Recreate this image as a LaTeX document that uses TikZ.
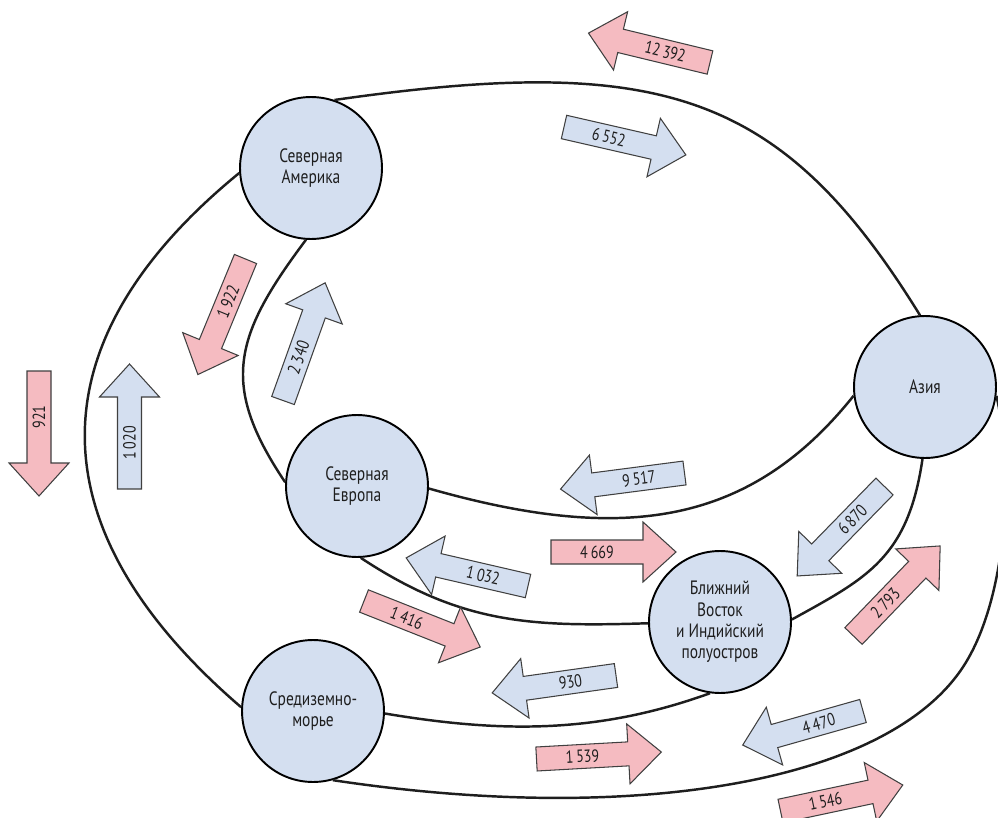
\documentclass[tikz,border=0pt]{standalone}
\usepackage{fontspec}
\setmainfont{PT Sans}[FakeStretch=0.8]
\definecolor{bluefill}{RGB}{212,223,240}
\definecolor{pinkfill}{RGB}{245,187,193}
\definecolor{inkc}{RGB}{30,30,30}
\tikzset{
  region/.style={circle, draw=black, line width=1.1pt, fill=bluefill, minimum size=2.84cm,
    inner sep=0pt, align=center, text=inkc, font=\fontsize{11}{12.2}\selectfont},
  loopline/.style={draw=inkc, line width=1.4pt},
  arrowline/.style={draw=inkc!85, line width=0.6pt, line join=miter},
  numlabel/.style={inner sep=0pt, text=inkc, font=\fontsize{10}{11}\selectfont},
}
\newcommand\flowarrow[6]{%
  \begin{scope}[shift={#2}, rotate=#3]
    \draw[arrowline, fill=#4] (0,-12) -- (92,-12) -- (92,-30) -- (125,0) -- (92,30) -- (92,12) -- (0,12) -- cycle;
    \node[numlabel, rotate=#5] (#1) at (46,0) {#6};
  \end{scope}}
\begin{document}
\begin{tikzpicture}[x=0.02cm, y=-0.02cm]
\useasboundingbox (0,0) rectangle (998,818);
% regions
\node[region] (na) at (311,168) {Северная\\Америка};
\node[region] (asia) at (925,387) {Азия};
\node[region] (ne) at (357,486) {Северная\\Европа};
\node[region] (med) at (313,711) {Средиземно-\\морье};
\node[region] (me) at (720,622) {Ближний\\Восток\\и Индийский\\полуостров};
\coordinate (hmid) at (963,667);
% loops
\draw[loopline] (na.71) .. controls (662,53) and (782,92) .. (asia.94);
\draw[loopline] (na.184) .. controls (30,344) and (36,531) .. (med.177);
\draw[loopline] (na.266) .. controls (233,337) and (220,385) .. (ne.177);
\draw[loopline] (ne.358) .. controls (620,543) and (748,528) .. (asia.187);
\draw[loopline] (ne.273) .. controls (461,624) and (530,627) .. (me.181);
\draw[loopline] (me.2) .. controls (867,578) and (908,558) .. (asia.268);
\draw[loopline] (med.358) .. controls (501,733) and (597,734) .. (me.262);
\draw[loopline] (med.286) .. controls (630,825) and (886,784) .. (hmid)
   .. controls (1007,600) and (1014,472) .. (asia.353);
% flows
\flowarrow{f12392}{(710,62.5)}{166.4}{pinkfill}{-13.6}{12\,392}
\flowarrow{f6552}{(564,127)}{-12.9}{bluefill}{-12.9}{6\,552}
\flowarrow{f1922}{(245.5,259)}{247.6}{pinkfill}{67.6}{1\,922}
\flowarrow{f2340}{(283,400.5)}{70.3}{bluefill}{70.3}{2\,340}
\flowarrow{f921}{(39,371)}{-90}{pinkfill}{90}{921}
\flowarrow{f1020}{(129.5,489)}{90}{bluefill}{90}{1\,020}
\flowarrow{f9517}{(684.5,473)}{187.4}{bluefill}{7.4}{9\,517}
\flowarrow{f4669}{(551,552)}{0}{pinkfill}{0}{4\,669}
\flowarrow{f1032}{(528,586)}{167}{bluefill}{-13}{1\,032}
\flowarrow{f1416}{(364,601)}{-21.6}{pinkfill}{-21.6}{1\,416}
\flowarrow{f6870}{(884.5,486.5)}{225.7}{bluefill}{45.7}{6\,870}
\flowarrow{f2793}{(853.5,636)}{46.1}{pinkfill}{46.1}{2\,793}
\flowarrow{f930}{(616,675.5)}{188}{bluefill}{8}{930}
\flowarrow{f4470}{(863,711)}{195.8}{bluefill}{15.8}{4\,470}
\flowarrow{f1539}{(536.5,759)}{3.2}{pinkfill}{3.2}{1\,539}
\flowarrow{f1546}{(780.5,811)}{12}{pinkfill}{12}{1\,546}
\end{tikzpicture}
\end{document}
